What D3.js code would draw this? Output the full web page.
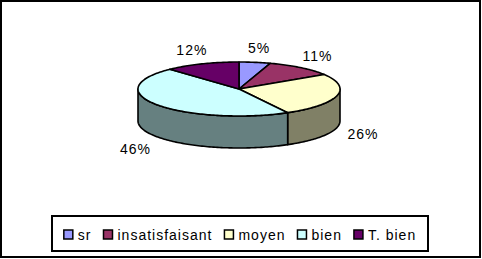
<!DOCTYPE html>
<html>
<head>
<meta charset="utf-8">
<script src="https://cdn.jsdelivr.net/npm/d3@7"></script>
<style>
  body { margin: 0; background: #fff; }
  text { font-family: "Liberation Sans", Arial, sans-serif; }
</style>
</head>
<body>
<div id="chart"></div>
<script>
// données
const categories = ["sr", "insatisfaisant", "moyen", "bien", "T. bien"];
const valeurs = [5, 11, 26, 46, 12];
const etiquettes = ["5%", "11%", "26%", "46%", "12%"];
const couleurs = ["#9999FF", "#993366", "#FFFFCC", "#CCFFFF", "#660066"];

const W = 482, H = 259;
const cx = 239, cy = 89, rx = 101, ry = 27, depth = 32;

const svg = d3.select("#chart").append("svg")
    .attr("width", W)
    .attr("height", H);

// cadre
svg.append("rect")
    .attr("x", 1).attr("y", 1)
    .attr("width", W - 3).attr("height", H - 3)
    .attr("fill", "#fff")
    .attr("stroke", "#000")
    .attr("stroke-width", 2);

const pie = d3.pie().sort(null).value(d => d);
const arcs = pie(valeurs);

// point sur l'ellipse (angle depuis midi, sens horaire)
const pt = (a, dy = 0) => [cx + rx * Math.sin(a), cy - ry * Math.cos(a) + dy];
const ligne = d3.line();

function echantillon(a0, a1, dy) {
    const n = Math.max(2, Math.ceil((a1 - a0) / 0.02));
    return d3.range(n + 1).map(i => pt(a0 + (a1 - a0) * i / n, dy));
}

function sombre(c) {
    const r = d3.rgb(c);
    return d3.rgb(r.r * 0.5, r.g * 0.5, r.b * 0.5).toString();
}

// côtés (moitié avant)
const g = svg.append("g")
    .attr("stroke", "#000")
    .attr("stroke-width", 1.6)
    .attr("stroke-linejoin", "round");

arcs.forEach((d, i) => {
    const a0 = Math.max(d.startAngle, Math.PI / 2);
    const a1 = Math.min(d.endAngle, 3 * Math.PI / 2);
    if (a1 <= a0) return;
    const pts = echantillon(a0, a1, 0).concat(echantillon(a0, a1, depth).reverse());
    g.append("path")
        .attr("d", ligne(pts) + "Z")
        .attr("fill", sombre(couleurs[i]));
});

// dessus
arcs.forEach((d, i) => {
    const pts = [[cx, cy]].concat(echantillon(d.startAngle, d.endAngle, 0));
    g.append("path")
        .attr("d", ligne(pts) + "Z")
        .attr("fill", couleurs[i]);
});

// étiquettes
const Lx = 128, Ly = 42;
arcs.forEach((d, i) => {
    const a = (d.startAngle + d.endAngle) / 2;
    const x = cx + Lx * Math.sin(a);
    const y = cy - Ly * Math.cos(a) + (Math.cos(a) < 0 ? depth + 3 : 0);
    svg.append("text")
        .attr("x", x).attr("y", y)
        .attr("text-anchor", "middle")
        .attr("dominant-baseline", "central")
        .style("font-size", "14px")
        .style("letter-spacing", "1px")
        .text(etiquettes[i]);
});

// légende
svg.append("rect")
    .attr("x", 52).attr("y", 216)
    .attr("width", 376).attr("height", 35)
    .attr("fill", "#fff")
    .attr("stroke", "#000")
    .attr("stroke-width", 2);

const leg = svg.append("g");
let xPos = 0;
categories.forEach((c, i) => {
    const item = leg.append("g").attr("transform", `translate(${xPos},0)`);
    item.append("rect")
        .attr("x", 0).attr("y", 230)
        .attr("width", 9).attr("height", 9)
        .attr("fill", couleurs[i])
        .attr("stroke", "#000")
        .attr("stroke-width", 1.5);
    const t = item.append("text")
        .attr("x", 14).attr("y", 240)
        .style("font-size", "14px")
        .style("letter-spacing", "1px")
        .text(c);
    xPos += 14 + t.node().getComputedTextLength() + 12;
});
const largeur = xPos - 12;
leg.attr("transform", `translate(${52 + (376 - largeur) / 2},0)`);
</script>
</body>
</html>
